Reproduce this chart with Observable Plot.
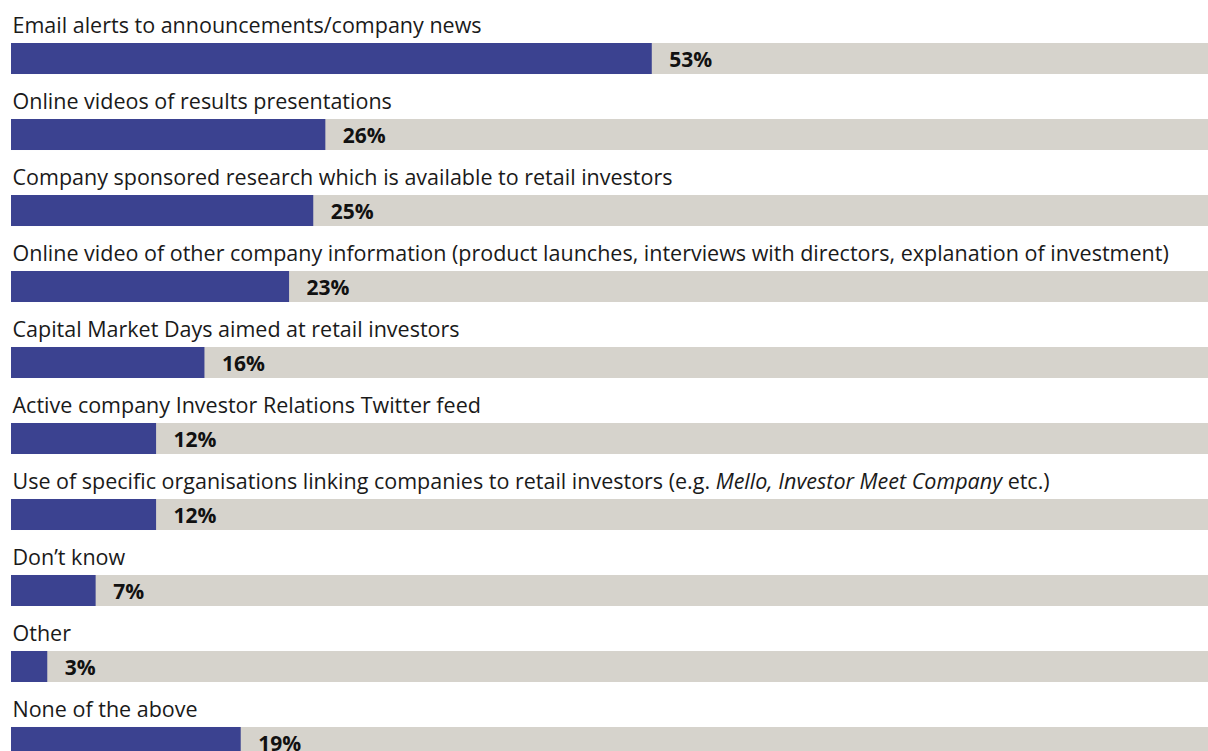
<!DOCTYPE html>
<html>
<head>
<meta charset="utf-8">
<script src="https://cdn.jsdelivr.net/npm/d3@7"></script>
<script src="https://cdn.jsdelivr.net/npm/@observablehq/plot@0.6"></script>
<style>
  html, body { margin: 0; padding: 0; background: #fff; overflow: hidden; }
  #chart svg { display: block; }
</style>
</head>
<body>
<div id="chart"></div>
<script>
const categories = [
  "Email alerts to announcements/company news",
  "Online videos of results presentations",
  "Company sponsored research which is available to retail investors",
  "Online video of other company information (product launches, interviews with directors, explanation of investment)",
  "Capital Market Days aimed at retail investors",
  "Active company Investor Relations Twitter feed",
  "Use of specific organisations linking companies to retail investors (e.g. Mello, Investor Meet Company etc.)",
  "Don’t know",
  "Other",
  "None of the above"
];
const values = [53, 26, 25, 23, 16, 12, 12, 7, 3, 19];
const valueLabels = ["53%", "26%", "25%", "23%", "16%", "12%", "12%", "7%", "3%", "19%"];
const italicPart = "Mello, Investor Meet Company";

const data = categories.map((c, i) => ({category: c, value: values[i], label: valueLabels[i], full: 100}));

const font = "'Open Sans', 'Noto Sans', sans-serif";

const chart = Plot.plot({
  width: 1208,
  height: 751,
  margin: 0,
  clip: true,
  style: {fontFamily: font, background: "#fff"},
  x: {domain: [0, 100], range: [11, 1220], axis: null},
  y: {domain: categories, range: [43, 758], paddingInner: 0.592, paddingOuter: 0, align: 0, round: false, axis: null},
  marks: [
    Plot.barX(data, {y: "category", x1: 0, x2: "full", fill: "#d6d3cc"}),
    Plot.barX(data, {y: "category", x1: 0, x2: "value", fill: "#3b4290"}),
    Plot.text(data, {y: "category", x: 0, text: "category", textAnchor: "start", dx: 1, dy: -26, lineAnchor: "bottom", fontSize: 21.5, fill: "#1a1a1a"}),
    Plot.text(data, {y: "category", x: "value", text: "label", textAnchor: "start", dx: 17, dy: 1, fontSize: 21, fontWeight: "bold", fill: "#111"})
  ]
});

document.getElementById("chart").appendChild(chart);

// Render the organisation names in italics, as in the original
d3.select(chart).selectAll("text").each(function() {
  const t = d3.select(this);
  const s = t.text();
  const idx = s.indexOf(italicPart);
  if (idx >= 0) {
    t.text(null);
    t.append("tspan").text(s.slice(0, idx));
    t.append("tspan").attr("font-style", "italic").text(italicPart);
    t.append("tspan").text(s.slice(idx + italicPart.length));
  }
});
</script>
</body>
</html>
